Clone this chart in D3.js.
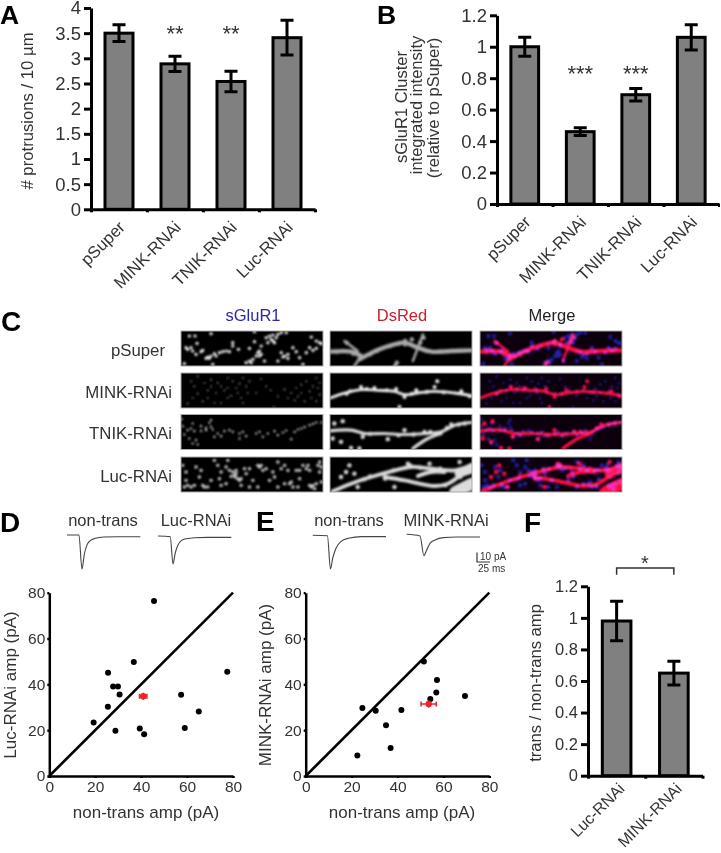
<!DOCTYPE html>
<html><head><meta charset="utf-8">
<script src="https://cdn.jsdelivr.net/npm/d3@7"></script>
<style>html,body{margin:0;padding:0;background:#fff}svg{display:block}text{font-family:"Liberation Sans",Arial,sans-serif;fill:#333}</style>
</head><body><div id="chart"></div>
<script>
// ---------- data ----------
const catsAB = ["pSuper","MINK-RNAi","TNIK-RNAi","Luc-RNAi"];
const protrusions = [3.5,2.89,2.54,3.41];
const protrusionsErr = [0.165,0.15,0.205,0.345];
const protrusionsTicks = [0,0.5,1,1.5,2,2.5,3,3.5,4];
const protrusionsStars = ["","**","**",""];
const intensity = [1.0,0.46,0.695,1.06];
const intensityErr = [0.06,0.025,0.04,0.08];
const intensityTicks = [0,0.2,0.4,0.6,0.8,1,1.2];
const intensityStars = ["","***","***",""];
const catsF = ["Luc-RNAi","MINK-RNAi"];
const ratio = [0.98,0.65];
const ratioErr = [0.125,0.075];
const ratioTicks = [0,0.2,0.4,0.6,0.8,1,1.2];
const ampTicks = [0,20,40,60,80];
const lucPoints = [[45.6,76.4],[36.8,49.7],[25.6,45.1],[77.5,45.5],[27.8,39.1],[29.9,39.1],[30.6,35.6],[57.4,35.5],[25.5,30.2],[19.3,23.4],[28.8,19.8],[39.4,20.7],[41.3,18.2],[59,20.9],[65.1,28.2]];
const lucMean = {x:40.9,y:34.8,ex:1.6,ey:1.5};
const minkPoints = [[51.5,50],[57.2,41.9],[56.9,36.4],[69.4,34.9],[54.3,33.6],[24.7,29.7],[30.5,28.5],[41.7,28.8],[35,22.1],[37,12.2],[22.5,8.9]];
const minkMean = {x:53.6,y:31.4,ex:3.3,ey:1.5};
// traces: [ms, pA]
const traceNonTransD = [[0,0],[43,0],[54,-38],[62,-22],[72,-11],[84,-6.3],[102,-3.7],[132,-2.2],[180,-1.9],[264,-1.9]];
const traceLuc = [[0,0],[44,-0.7],[54,-31],[62,-19],[72,-10],[84,-5.2],[102,-3],[132,-1.9],[180,-1.5],[264,-1.5]];
const traceNonTransE = [[0,0],[53,-0.5],[64,-37.4],[72,-25.5],[84,-14.4],[101,-7],[128,-3.3],[176,-1.5],[264,-1.5]];
const traceMink = [[0,0],[48,-1.8],[62,-23.7],[72,-17.4],[84,-10],[102,-6.3],[132,-3.7],[180,-3],[264,-3]];
// panel C, image grid coordinates
const rowNames = ["pSuper","MINK-RNAi","TNIK-RNAi","Luc-RNAi"];
const colNames = ["sGluR1","DsRed","Merge"];
const puncta = [
 [[35,25],[52,25],[100,18],[58,47],[165,45],[30,65],[45,70],[75,68],[100,85],[110,78],[135,72],[155,72],[182,65],[215,62],[240,75],[245,85],[230,42],[270,45],[280,35],[295,30],[300,20],[325,15],[345,60],[320,85],[330,92],[385,75],[415,62],[425,45],[85,92],[105,110],[225,95],[205,105],[260,100],[375,110],[310,75],[250,55],[20,108],[400,28],[230,12],[275,25],[90,88],[95,92],[115,85],[125,75],[145,70],[70,72],[40,60],[25,60],[55,80],[235,85],[245,70],[250,80],[285,40],[290,45],[265,30],[285,22],[310,15],[330,80],[315,88],[300,100],[355,72],[415,40],[430,48],[165,55],[215,100],[220,105],[365,90],[395,60],[405,68]],
 [[60,20],[150,25],[195,25],[100,30],[250,28],[370,45],[50,50],[100,50],[130,50],[150,55],[175,55],[205,50],[140,62],[160,78],[235,70],[278,62],[60,72],[75,95],[110,100],[130,100],[190,85],[195,100],[30,102],[340,70],[370,70],[395,65],[425,75],[350,92],[380,95],[405,50],[420,55],[288,112],[40,35],[80,40],[120,40],[165,35],[185,42],[215,35],[90,62],[115,70],[180,70],[210,70],[150,85],[45,85],[90,85],[320,60],[355,55],[385,35],[415,25],[425,40],[360,80],[330,85],[400,85],[415,95],[265,50],[300,80]],
 [[12,24],[45,37],[30,57],[100,27],[100,47],[70,59],[85,57],[110,77],[120,67],[140,60],[165,62],[185,67],[195,62],[185,82],[235,67],[255,77],[270,67],[290,60],[315,64],[340,84],[350,62],[370,52],[395,42],[415,34],[430,34],[45,97],[55,87],[85,50],[20,70],[40,52],[50,60],[35,82],[70,45],[95,35],[105,55],[155,57],[130,75],[205,75],[245,62],[300,72],[325,58],[360,55],[380,48],[405,38],[15,45],[60,100]],
 [[15,35],[25,55],[70,50],[65,70],[50,95],[40,100],[80,100],[120,35],[130,55],[150,20],[155,50],[170,65],[180,75],[175,60],[200,45],[215,45],[245,40],[255,50],[285,55],[300,25],[310,45],[330,50],[355,50],[385,45],[395,50],[420,35],[425,55],[125,75],[130,95],[215,100],[240,100],[335,90],[345,100],[400,100],[410,105],[365,75],[25,80],[190,95],[275,80],[100,80],[430,85],[165,55],[172,70],[185,80],[160,68],[175,50],[190,75],[20,100],[30,95],[75,95],[90,100],[55,40],[240,35],[250,35],[265,45],[290,70],[320,35],[340,85],[405,95],[395,95],[415,90],[375,35],[390,35],[430,40],[110,20],[145,40],[205,60],[225,80],[145,90],[300,100],[320,90],[360,100],[365,50],[425,25]]
];
const dendrites = [
 [[[11,72],[73,72],[103,85]],[[98,95],[158,65],[203,50],[233,45],[273,60],[313,72],[373,70],[433,68]],[[288,20],[258,100]],[[53,40],[93,70]],[[93,100],[83,115]]],
 [[[11,85],[48,72],[103,60],[153,62],[203,65],[233,75],[273,70],[323,65],[383,70],[433,78]]],
 [[[11,59],[73,57],[113,67],[173,67],[233,70],[293,67],[343,62],[383,42],[433,34]],[[258,112],[303,82],[343,67]]],
 [[[18,113],[73,90],[133,70],[193,53],[253,40],[313,45],[383,50],[433,35]],[[173,70],[233,80],[323,97],[363,90],[403,65],[433,55]],[[273,67],[313,55],[353,55]],[[385,115],[435,90]],[[395,60],[433,40]]]
];
const spines = [
 [[210,105],[205,115],[290,30],[280,45],[235,50],[255,35],[60,45],[80,78],[50,70],[30,72],[130,80],[150,70],[190,55],[215,48],[235,40],[250,50],[300,70],[340,72]],
 [[103,52],[143,55],[208,58],[233,82],[268,62],[323,52],[331,35],[403,65],[428,80],[218,112],[70,65],[120,58],[180,62],[255,72],[300,66],[350,68],[60,72]],
 [[23,37],[48,30],[108,77],[183,84],[233,57],[293,62],[373,40],[413,37],[18,82],[43,92],[73,110],[98,112],[130,68],[215,72],[260,70],[310,62],[330,68],[360,50],[395,40]],
 [[68,35],[58,55],[83,60],[43,70],[243,30],[308,30],[398,25],[203,100],[113,77],[93,100],[130,68],[200,50],[250,35],[280,42],[340,45],[355,95],[400,70],[175,75]]
];
// ---------- drawing ----------
const W=721,H=853;
const svg=d3.select("#chart").append("svg").attr("width",W).attr("height",H).attr("viewBox",`0 0 ${W} ${H}`);
const defs=svg.append("defs");
defs.append("filter").attr("id","soft").attr("x",0).attr("y",0).attr("width",1).attr("height",1).attr("filterUnits","objectBoundingBox").append("feGaussianBlur").attr("stdDeviation",0.4);
defs.append("filter").attr("id","micro").attr("x",-0.1).attr("y",-0.5).attr("width",1.2).attr("height",2).append("feGaussianBlur").attr("stdDeviation",0.8);
svg.append("rect").attr("width",W).attr("height",H).attr("fill","#fff");
const root=svg.append("g").attr("filter","url(#soft)");

function letter(t,x,y,s){root.append("text").attr("x",x).attr("y",y).attr("font-size",s||28).attr("font-weight","bold").style("fill","#000").text(t);}
function vtext(t,x,y,size){root.append("text").attr("transform",`translate(${x},${y}) rotate(-90)`).attr("text-anchor","middle").attr("font-size",size).text(t);}

function styleAxis(g,w,fs){
  g.select(".domain").attr("stroke","#000").attr("stroke-width",w);
  g.selectAll(".tick line").attr("stroke","#000").attr("stroke-width",w);
  g.selectAll(".tick text").attr("font-size",fs).attr("font-family","Liberation Sans").style("fill","#333");
}
function barPanel(o){
  const g=root.append("g");
  const y=d3.scaleLinear().domain(o.ydom).range([o.y0,o.y1]);
  const xEdge=d3.scaleLinear().domain([0,o.cats.length]).range([o.x0,o.x1]);
  const x=d3.scaleBand().domain(o.cats).range([o.x0,o.x1]).paddingInner(0.5).paddingOuter(0.25);
  g.selectAll(".bar").data(o.cats).join("rect").attr("x",d=>x(d)).attr("width",x.bandwidth())
    .attr("y",(d,i)=>y(o.values[i])).attr("height",(d,i)=>o.y0-y(o.values[i]))
    .attr("fill","#808080").attr("stroke","#000").attr("stroke-width",3);
  const cx=d=>x(d)+x.bandwidth()/2;
  const cap=6.5;
  o.cats.forEach((c,i)=>{
    const yt=y(o.values[i]+o.err[i]), yb=y(o.values[i]-o.err[i]);
    g.append("path").attr("d",`M${cx(c)},${yt}V${yb}M${cx(c)-cap},${yt}H${cx(c)+cap}M${cx(c)-cap},${yb}H${cx(c)+cap}`)
     .attr("fill","none").attr("stroke","#000").attr("stroke-width",3);
    if(o.stars&&o.stars[i]) g.append("text").attr("x",cx(c)).attr("y",o.starY).attr("text-anchor","middle").attr("font-size",22).text(o.stars[i]);
    g.append("text").attr("transform",`translate(${cx(c)+o.lx},${o.y0+o.ly}) rotate(-45)`).attr("text-anchor","end").attr("font-size",o.labelSize).text(c);
  });
  const ya=g.append("g").attr("transform",`translate(${o.x0},0)`).call(d3.axisLeft(y).tickValues(o.ticks).tickSize(7).tickSizeOuter(0).tickPadding(3).tickFormat(d3.format("~g")));
  styleAxis(ya,3,o.tickSize);
  const xa=g.append("g").attr("transform",`translate(0,${o.y0})`).call(d3.axisBottom(xEdge).ticks(o.cats.length).tickSize(3).tickSizeOuter(0).tickFormat(""));
  styleAxis(xa,3,10);
  return {x,y,cx};
}
// A
letter("A",0,23.5,26.5);
barPanel({cats:catsAB,values:protrusions,err:protrusionsErr,stars:protrusionsStars,ticks:protrusionsTicks,ydom:[0,4],y0:209.3,y1:8,x0:91,x1:315,starY:41,lx:7,ly:19,labelSize:16.8,tickSize:18.5});
vtext("# protrusions / 10 µm",33,111,16.7);
// B
letter("B",377,23.5,26.5);
barPanel({cats:catsAB,values:intensity,err:intensityErr,stars:intensityStars,ticks:intensityTicks,ydom:[0,1.2],y0:204,y1:15.3,x0:497,x1:719,starY:81,lx:7,ly:19,labelSize:16.8,tickSize:18.5});
vtext("sGluR1 Cluster",406.5,107,16.5);vtext("integrated intensity",422,105,16.5);vtext("(relative to pSuper)",439,108,16.5);
// F
letter("F",524,532);
const f=barPanel({cats:catsF,values:ratio,err:ratioErr,ticks:ratioTicks,ydom:[0,1.2],y0:775.7,y1:586.3,x0:588,x1:702.5,lx:9,ly:14,labelSize:16,tickSize:16.5});
vtext("trans / non-trans amp",541,683,16.6);
root.append("path").attr("d",`M${f.cx(catsF[0])},574.7V568H${f.cx(catsF[1])}V574.7`).attr("fill","none").attr("stroke","#333").attr("stroke-width",1.5);
root.append("text").attr("x",645).attr("y",570).attr("text-anchor","middle").attr("font-size",20).text("*");
// C
letter("C",1,331);
const cellX=[181,330,480],cellY=[331,373,414.5,457],cw=142,ch=35;
const ix=d3.scaleLinear().domain([10,435]).range([0,cw]);
const iy=d3.scaleLinear().domain([10,115]).range([0,ch]);
const headerFill=["#2a2aa8","#c8202a","#222"],headerX=[253,402,552];
const punctaR=[1.6,0.8,1.1,1.7],punctaFill=["#f4f4f4","#bbb","#e8e8e8","#ccc"];
const dendFill=["#aaa","#eee","#ddd","#dcdcdc"],dendW=[4.4,2.8,3.2,3.8],spineR=[2.2,2,2.2,2.2];
const line=d3.line().x(d=>ix(d[0])).y(d=>iy(d[1])).curve(d3.curveCatmullRom);
colNames.forEach((n,j)=>root.append("text").attr("x",headerX[j]).attr("y",321).attr("text-anchor","middle").attr("font-size",16.5).style("fill",headerFill[j]).text(n));
const rowLabelRight=[165,172,172,172],rowLabelY=[355.5,397.5,438.5,481.5];
rowNames.forEach((n,r)=>{
  root.append("text").attr("x",rowLabelRight[r]).attr("y",rowLabelY[r]).attr("text-anchor","end").attr("font-size",16.8).text(n);
  colNames.forEach((col,j)=>{
    const id=`clip${r}${j}`;
    defs.append("clipPath").attr("id",id).append("rect").attr("width",cw).attr("height",ch);
    const outer=root.append("g").attr("transform",`translate(${cellX[j]},${cellY[r]})`);
    outer.append("rect").attr("width",cw).attr("height",ch).attr("fill",j==2?"#0a0010":"#000");
    const g=outer.append("g").attr("clip-path",`url(#${id})`).append("g").attr("filter","url(#micro)").style("isolation","isolate");
    if(j==0||j==2){
      g.selectAll(".p").data(puncta[r]).join("circle").attr("cx",d=>ix(d[0])).attr("cy",d=>iy(d[1]))
       .attr("r",j==0?punctaR[r]:punctaR[r]+0.3).attr("fill",j==0?punctaFill[r]:"#2626b4");
    }
    if(j==1||j==2){
      const col2=j==1?dendFill[r]:"#ff1040";
      g.selectAll(".d").data(dendrites[r]).join("path").attr("d",line).attr("fill","none").attr("stroke",col2)
       .attr("stroke-width",(d,i)=>(r==3&&i==3)?12:(r==3&&i==4)?8:(r==0&&i>1)?dendW[r]*0.55:dendW[r]).attr("stroke-linecap","round")
       .style("mix-blend-mode",j==2?"screen":null);
      g.selectAll(".s").data(spines[r]).join("circle").attr("cx",d=>ix(d[0])).attr("cy",d=>iy(d[1]))
       .attr("r",spineR[r]).attr("fill",col2).style("mix-blend-mode",j==2?"screen":null);
    }
    outer.append("rect").attr("width",cw).attr("height",ch).attr("fill","none").attr("stroke","#aaa").attr("stroke-width",1);
  });
});
// scatter
function scatter(o){
  const g=root.append("g");
  const x=d3.scaleLinear().domain([0,80]).range([o.x0,o.x1]);
  const y=d3.scaleLinear().domain([0,80]).range([776,592.7]);
  const line=d3.line().x(d=>x(d[0])).y(d=>y(d[1]));
  const ya=g.append("g").attr("transform",`translate(${o.x0},0)`).call(d3.axisLeft(y).tickValues(ampTicks).tickSize(2).tickSizeOuter(0).tickPadding(2));
  const xa=g.append("g").attr("transform",`translate(0,776)`).call(d3.axisBottom(x).tickValues(ampTicks).tickSize(2).tickSizeOuter(0).tickPadding(3));
  styleAxis(ya,2.5,15.5);styleAxis(xa,2.5,15.5);
  g.append("path").attr("d",line([[0,0],[80,80]])).attr("stroke","#000").attr("stroke-width",2.5).attr("fill","none");
  g.selectAll(".pt").data(o.points).join("circle").attr("cx",d=>x(d[0])).attr("cy",d=>y(d[1])).attr("r",3).attr("fill","#000");
  const m=o.mean;
  g.append("path").attr("d",`M${x(m.x-m.ex)},${y(m.y)}H${x(m.x+m.ex)}M${x(m.x-m.ex)},${y(m.y)-2.5}v5M${x(m.x+m.ex)},${y(m.y)-2.5}v5M${x(m.x)},${y(m.y-m.ey)}V${y(m.y+m.ey)}`).attr("stroke","#f0202c").attr("stroke-width",1.6).attr("fill","none");
  g.append("circle").attr("cx",x(m.x)).attr("cy",y(m.y)).attr("r",3.2).attr("fill","#f0202c");
  g.append("text").attr("x",o.xt).attr("y",818).attr("text-anchor","middle").attr("font-size",17).text("non-trans amp (pA)");
  vtext(o.ylabel,o.yt,685,17);
}
letter("D",0,532);
scatter({x0:49.3,x1:233,points:lucPoints,mean:lucMean,xt:146,ylabel:"Luc-RNAi amp (pA)",yt:16});
letter("E",256,531);
scatter({x0:305.7,x1:489.3,points:minkPoints,mean:minkMean,xt:402,ylabel:"MINK-RNAi amp (pA)",yt:271});
// traces
function trace(data,x0,yb,title,tx){
  const tX=d3.scaleLinear().domain([0,264]).range([x0,x0+73.3]);
  const tY=d3.scaleLinear().domain([0,-10]).range([yb,yb+9]);
  root.append("path").attr("d",d3.line().x(d=>tX(d[0])).y(d=>tY(d[1])).curve(d3.curveMonotoneX)(data)).attr("fill","none").attr("stroke","#444").attr("stroke-width",1.1);
  root.append("text").attr("x",tx).attr("y",526).attr("text-anchor","middle").attr("font-size",16.5).text(title);
}
trace(traceNonTransD,67,535,"non-trans",103);
trace(traceLuc,158,536,"Luc-RNAi",196);
trace(traceNonTransE,312.7,535.3,"non-trans",349);
trace(traceMink,406.7,534.3,"MINK-RNAi",446);
root.append("path").attr("d","M477,552.5V562H490").attr("fill","none").attr("stroke","#333").attr("stroke-width",1.2);
root.append("text").attr("x",480).attr("y",560).attr("font-size",10).text("10 pA");
root.append("text").attr("x",478).attr("y",572).attr("font-size",10).text("25 ms");
</script></body></html>
